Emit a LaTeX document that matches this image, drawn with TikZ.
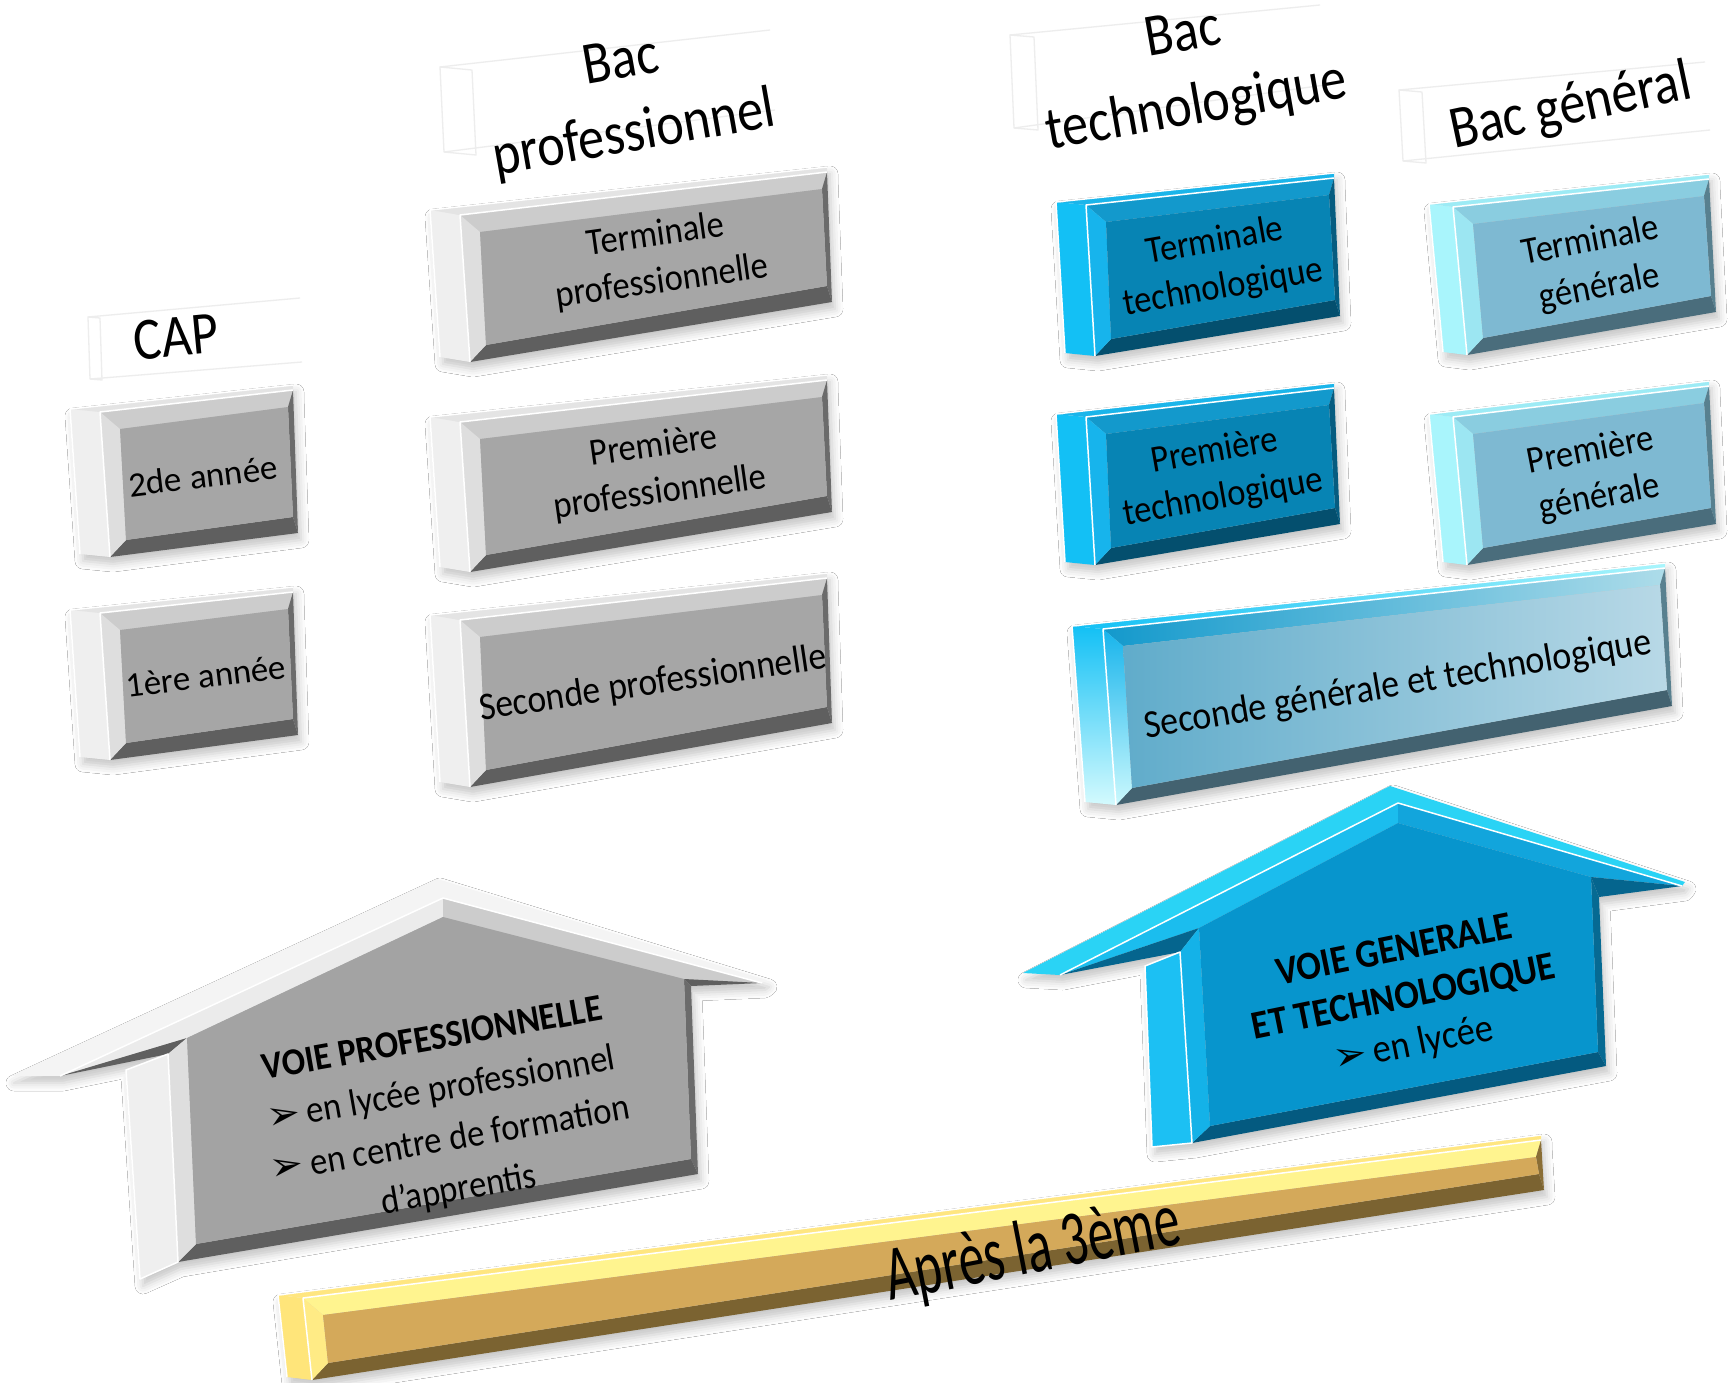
\documentclass[tikz,border=0pt]{standalone}
\usepackage{fontspec}
\setmainfont{Carlito}
\newfontfamily\calA[FakeStretch=0.87]{Carlito}
\newfontfamily\calB[FakeStretch=0.91]{Carlito}
\newfontfamily\calC[FakeStretch=0.66]{Carlito}
\newfontfamily\dvs{DejaVu Sans}
\usetikzlibrary{calc,shadows.blur}

% grey
\definecolor{gSideC}{HTML}{EFEFEF}\definecolor{gTopC}{HTML}{E4E4E4}
\definecolor{gBTC}{HTML}{CCCCCC}\definecolor{gBLC}{HTML}{DEDEDE}
\definecolor{gFaceC}{HTML}{A6A6A6}\definecolor{gBBC}{HTML}{5F5F5F}
\definecolor{gBRC}{HTML}{6B6B6B}
% techno blue
\definecolor{tSideC}{HTML}{13C0F5}\definecolor{tTopC}{HTML}{1BB5EA}
\definecolor{tBTC}{HTML}{1399CC}\definecolor{tBLC}{HTML}{17B4EC}
\definecolor{tFaceC}{HTML}{0784B4}\definecolor{tBBC}{HTML}{044F6E}
\definecolor{tBRC}{HTML}{065C80}
% general light
\definecolor{lSideC}{HTML}{A9F5FC}\definecolor{lTopC}{HTML}{9DEBF5}
\definecolor{lBTC}{HTML}{8ACDE0}\definecolor{lBLC}{HTML}{9CE6F2}
\definecolor{lFaceC}{HTML}{7EB9D2}\definecolor{lBBC}{HTML}{4A6D7C}
\definecolor{lBRC}{HTML}{58808F}
% yellow bar
\definecolor{ySideC}{HTML}{FFE57A}\definecolor{yTopC}{HTML}{FFE680}
\definecolor{yBTC}{HTML}{FFF48F}\definecolor{yBLC}{HTML}{FFEB85}
\definecolor{yFaceC}{HTML}{D4A95A}\definecolor{yBBC}{HTML}{7B6331}
\definecolor{yBRC}{HTML}{8A6E36}
% blue house
\definecolor{hTopC}{HTML}{2AD3F5}\definecolor{hRLC}{HTML}{1BBDEE}
\definecolor{hRRC}{HTML}{12A5DC}\definecolor{hDarkC}{HTML}{05658E}
\definecolor{hRC}{HTML}{066A93}\definecolor{hBC}{HTML}{045A80}
\definecolor{hLC}{HTML}{14B2E8}\definecolor{hFaceC}{HTML}{0795CD}
\definecolor{hSideC}{HTML}{1CC0F3}

\newcommand\bevbox[7]{%
  \coordinate (#1-tl) at (#2);
  \coordinate (#1-tr) at (#3);
  \coordinate (#1-br) at (#4);
  \coordinate (#1-bl) at (#5);
  \coordinate (#1-itl) at ($(#1-tl)+(20,17)$);
  \coordinate (#1-itr) at ($(#1-tr)+(-5,17)$);
  \coordinate (#1-ibr) at ($(#1-br)+(-5,-16)$);
  \coordinate (#1-ibl) at ($(#1-bl)+(16,-17)$);
  \coordinate (#1-stl) at ($(#1-tl)+(#7)$);
  \coordinate (#1-sbl) at ($(#1-bl)+(#7)$);
  \coordinate (#1-str) at ($(#1-tr)+(0,-5)$);
  \path[boxshadow] (#1-stl) -- (#1-str) -- (#1-tr) -- (#1-br) -- (#1-bl) -- (#1-sbl) -- cycle;
  \path[#6side] (#1-tl) -- (#1-bl) -- (#1-sbl) -- (#1-stl) -- cycle;
  \path[#6top] (#1-stl) -- (#1-str) -- (#1-tr) -- (#1-tl) -- cycle;
  \path[#6bt] (#1-tl) -- (#1-tr) -- (#1-itr) -- (#1-itl) -- cycle;
  \path[#6br] (#1-tr) -- (#1-br) -- (#1-ibr) -- (#1-itr) -- cycle;
  \path[#6bb] (#1-br) -- (#1-bl) -- (#1-ibl) -- (#1-ibr) -- cycle;
  \path[#6bl] (#1-bl) -- (#1-tl) -- (#1-itl) -- (#1-ibl) -- cycle;
  \path[#6face] (#1-itl) -- (#1-itr) -- (#1-ibr) -- (#1-ibl) -- cycle;
  \draw[hilite] (#1-sbl) -- (#1-stl) -- (#1-str);
  \draw[hilite] (#1-bl) -- (#1-tl) -- (#1-tr);
}

\newcommand\ghostbox[6]{%
  \coordinate (#1-tl) at (#2);
  \coordinate (#1-tr) at (#3);
  \coordinate (#1-br) at (#4);
  \coordinate (#1-bl) at (#5);
  \coordinate (#1-stl) at ($(#1-tl)+(#6)$);
  \coordinate (#1-sbl) at ($(#1-bl)+(#6)$);
  \draw[ghost] (#1-sbl) -- (#1-stl) -- (#1-tl) -- (#1-bl) -- cycle;
  \draw[ghost] (#1-stl) -- (#1-tr);
  \draw[ghost] (#1-sbl) -- (#1-br);
}

\begin{document}
\begin{tikzpicture}[x=1pt,y=-1pt,
  boxshadow/.style={blur shadow={shadow xshift=3pt,shadow yshift=-7pt,shadow opacity=22,shadow blur radius=8pt}},
  ghost/.style={draw=black!7,line width=1.3pt,line join=round},
  hilite/.style={draw=white,line width=1.5pt,line join=round},
  gside/.style={fill=gSideC}, gtop/.style={fill=gTopC}, gbt/.style={fill=gBTC},
  gbr/.style={fill=gBRC}, gbb/.style={fill=gBBC}, gbl/.style={fill=gBLC}, gface/.style={fill=gFaceC},
  tside/.style={fill=tSideC}, ttop/.style={fill=tTopC}, tbt/.style={fill=tBTC},
  tbr/.style={fill=tBRC}, tbb/.style={fill=tBBC}, tbl/.style={fill=tBLC}, tface/.style={fill=tFaceC},
  lside/.style={fill=lSideC}, ltop/.style={fill=lTopC}, lbt/.style={fill=lBTC},
  lbr/.style={fill=lBRC}, lbb/.style={fill=lBBC}, lbl/.style={fill=lBLC}, lface/.style={fill=lFaceC},
  yside/.style={fill=ySideC}, ytop/.style={fill=yTopC}, ybt/.style={fill=yBTC},
  ybr/.style={fill=yBRC}, ybb/.style={fill=yBBC}, ybl/.style={fill=yBLC}, yface/.style={fill=yFaceC},
  sside/.style={top color=tSideC, bottom color=lSideC!50!white},
  stop/.style={left color=tSideC, right color=lSideC},
  sbt/.style={left color=tBTC, right color=lBTC!70!white},
  sbr/.style={fill=lBRC},
  sbb/.style={fill=lBBC!90!black},
  sbl/.style={top color=tBLC, bottom color=lSideC!60!white},
  sface/.style={left color=lFaceC!75!tFaceC, right color=lFaceC!55!white},
  lblfont/.style={font={\calA\fontsize{60}{74}\selectfont}, align=center, inner sep=0pt},
  captxt/.style={font={\fontsize{35}{42}\selectfont}, align=center, inner sep=0pt},
  btxt/.style={font={\calB\fontsize{38}{47}\selectfont}, align=center, inner sep=0pt},
  htxt/.style={font={\calB\fontsize{38}{51}\selectfont}, align=center, inner sep=0pt},
  bhtxt/.style={font={\calB\fontsize{40}{48}\selectfont}, align=center, inner sep=0pt},
  bartxt/.style={font={\calC\fontsize{78}{90}\selectfont}, inner sep=0pt}
]
\useasboundingbox (0,0) rectangle (1729,1383);
\fill[white] (0,0) rectangle (1729,1383);

% ---------- ghost label boxes and labels ----------
\ghostbox{gcap}{100,318}{300,298}{302,362}{102,380}{-12,-1}
\ghostbox{gbp}{472,70}{770,30}{775,110}{476,155}{-32,-3}
\ghostbox{gbt}{1034,37}{1320,5}{1325,85}{1038,130}{-24,-2}
\ghostbox{gbg}{1422,92}{1705,62}{1710,130}{1426,163}{-23,-2}

\node[lblfont, rotate=5.5] (cap) at (176,337) {CAP};
\node[lblfont, rotate=10] (bacpro) at (628,100) {Bac\\professionnel};
\node[lblfont, rotate=10] (bactech) at (1190,73) {Bac\\technologique};
\node[lblfont, rotate=12] (bacgen) at (1571,108) {Bac général};

% ---------- CAP ----------
\bevbox{capa}{100,412}{293,390}{298,533}{110,557}{g}{-30,-3}
\node[captxt, rotate=7] (capatxt) at (203,476) {2de année};
\bevbox{capb}{100,613}{293,592}{298,735}{110,760}{g}{-30,-3}
\node[captxt, rotate=7] (capbtxt) at (206,676) {1ère année};

% ---------- Bac pro ----------
\bevbox{prot}{460,215}{827,172}{832,302}{470,362}{g}{-30,-5}
\node[btxt, rotate=8] (prottxt) at (659,259) {Terminale\\professionnelle};
\bevbox{prop}{460,422}{827,380}{832,512}{470,572}{g}{-30,-5}
\node[btxt, rotate=8] (proptxt) at (657,470) {Première\\professionnelle};
\bevbox{pros}{460,620}{827,578}{832,723}{470,787}{g}{-30,-5}
\node[btxt, font={\calB\fontsize{39}{47}\selectfont}, rotate=8.5] (prostxt) at (653,684) {Seconde professionnelle};

% ---------- Bac techno ----------
\bevbox{tect}{1086,205}{1334,178}{1340,316}{1095,356}{t}{-30,-3}
\node[btxt, rotate=10] (tecttxt) at (1219,265) {Terminale\\technologique};
\bevbox{tecp}{1086,417}{1334,388}{1340,524}{1095,565}{t}{-30,-3}
\node[btxt, rotate=10] (tecptxt) at (1219,475) {Première\\technologique};

% ---------- Bac general ----------
\bevbox{gent}{1453,207}{1709,179}{1716,312}{1467,355}{l}{-24,-3}
\node[btxt, rotate=11] (genttxt) at (1595,265) {Terminale\\générale};
\bevbox{genp}{1453,417}{1709,386}{1716,524}{1467,565}{l}{-24,-3}
\node[btxt, rotate=11] (genptxt) at (1595,475) {Première\\générale};

% ---------- Seconde G&T ----------
\bevbox{sec}{1103,629}{1665,568}{1672,706}{1116,805}{s}{-31,-3}
\node[btxt, font={\calB\fontsize{39.5}{47}\selectfont}, rotate=9.5] (sectxt) at (1398,686) {Seconde générale et technologique};

% ---------- grey house ----------
\coordinate (gh-oL) at (11,1076);
\coordinate (gh-oA) at (437,879);
\coordinate (gh-oR) at (766,980);
\coordinate (gh-L) at (60,1076);
\coordinate (gh-A) at (443,898);
\coordinate (gh-R) at (762,983);
\coordinate (gh-BTR) at (691,986);
\coordinate (gh-BBR) at (698,1174);
\coordinate (gh-BBL) at (178,1262);
\coordinate (gh-BTL) at (168,1054);
\coordinate (gh-sT) at (126,1070);
\coordinate (gh-sB) at (140,1279);
\coordinate (gh-iBTL) at (187,1038);
\coordinate (gh-iA) at (443,917);
\coordinate (gh-iBTR) at (684,979);
\coordinate (gh-iBBR) at (691,1159);
\coordinate (gh-iBBL) at (196,1244);
\path[boxshadow] (gh-oL) -- (gh-oA) -- (gh-oR) -- (gh-R) -- (gh-BTR) -- (gh-BBR) -- (gh-BBL) -- (gh-sB) -- (gh-sT) -- (gh-BTL) -- (gh-L) -- cycle;
\path[fill=gSideC] (gh-BTL) -- (gh-sT) -- (gh-sB) -- (gh-BBL) -- cycle;
\path[fill=gSideC!70!white] (gh-oL) -- (gh-oA) -- (gh-oR) -- (gh-R) -- (gh-A) -- (gh-L) -- cycle;
\path[fill=gBLC!60!white] (gh-L) -- (gh-A) -- (gh-iA) -- (gh-iBTL) -- cycle;
\path[fill=gBTC] (gh-A) -- (gh-R) -- (gh-iBTR) -- (gh-iA) -- cycle;
\path[fill=gBBC] (gh-L) -- (gh-iBTL) -- (gh-BTL) -- cycle;
\path[fill=gBBC] (gh-R) -- (gh-BTR) -- (gh-iBTR) -- cycle;
\path[fill=gBRC] (gh-BTR) -- (gh-BBR) -- (gh-iBBR) -- (gh-iBTR) -- cycle;
\path[fill=gBBC] (gh-BBR) -- (gh-BBL) -- (gh-iBBL) -- (gh-iBBR) -- cycle;
\path[fill=gBLC] (gh-BBL) -- (gh-BTL) -- (gh-iBTL) -- (gh-iBBL) -- cycle;
\path[fill=gFaceC!98!black] (gh-iBTL) -- (gh-iA) -- (gh-iBTR) -- (gh-iBBR) -- (gh-iBBL) -- cycle;
\draw[hilite] (gh-L) -- (gh-A) -- (gh-R);
\draw[hilite] (gh-sT) -- (gh-sB) -- (gh-BBL) -- (gh-BTL) -- cycle;
\node[htxt, rotate=10] (ghtxt) at (446,1116) {\textbf{VOIE PROFESSIONNELLE}\\{\dvs\fontsize{40}{40}\selectfont ➢}\,en lycée professionnel\\{\dvs\fontsize{40}{40}\selectfont ➢}\,en centre de formation\\d’apprentis};

% ---------- blue house ----------
\coordinate (bh-oL) at (1023,973);
\coordinate (bh-oA) at (1390,786);
\coordinate (bh-oR) at (1685,882);
\coordinate (bh-L) at (1060,975);
\coordinate (bh-A) at (1398,803);
\coordinate (bh-R) at (1682,886);
\coordinate (bh-BTR) at (1599,897);
\coordinate (bh-BBR) at (1606,1066);
\coordinate (bh-BBL) at (1192,1143);
\coordinate (bh-BTL) at (1180,952);
\coordinate (bh-sT) at (1145,966);
\coordinate (bh-sB) at (1152,1147);
\coordinate (bh-iBTL) at (1199,928);
\coordinate (bh-iA) at (1398,823);
\coordinate (bh-iBTR) at (1591,877);
\coordinate (bh-iBBR) at (1598,1052);
\coordinate (bh-iBBL) at (1210,1126);
\path[boxshadow] (bh-oL) -- (bh-oA) -- (bh-oR) -- (bh-R) -- (bh-BTR) -- (bh-BBR) -- (bh-BBL) -- (bh-sB) -- (bh-sT) -- (bh-BTL) -- (bh-L) -- cycle;
\path[fill=hSideC] (bh-BTL) -- (bh-sT) -- (bh-sB) -- (bh-BBL) -- cycle;
\path[fill=hTopC] (bh-oL) -- (bh-oA) -- (bh-oR) -- (bh-R) -- (bh-A) -- (bh-L) -- cycle;
\path[fill=hRLC] (bh-L) -- (bh-A) -- (bh-iA) -- (bh-iBTL) -- cycle;
\path[fill=hRRC] (bh-A) -- (bh-R) -- (bh-iBTR) -- (bh-iA) -- cycle;
\path[fill=hDarkC] (bh-L) -- (bh-iBTL) -- (bh-BTL) -- cycle;
\path[fill=hDarkC] (bh-R) -- (bh-BTR) -- (bh-iBTR) -- cycle;
\path[fill=hRC] (bh-BTR) -- (bh-BBR) -- (bh-iBBR) -- (bh-iBTR) -- cycle;
\path[fill=hBC] (bh-BBR) -- (bh-BBL) -- (bh-iBBL) -- (bh-iBBR) -- cycle;
\path[fill=hLC] (bh-BBL) -- (bh-BTL) -- (bh-iBTL) -- (bh-iBBL) -- cycle;
\path[fill=hFaceC] (bh-iBTL) -- (bh-iA) -- (bh-iBTR) -- (bh-iBBR) -- (bh-iBBL) -- cycle;
\draw[hilite] (bh-L) -- (bh-A) -- (bh-R);
\draw[hilite] (bh-sT) -- (bh-sB) -- (bh-BBL) -- (bh-BTL) -- cycle;
\node[bhtxt, rotate=11.5] (bhtxt) at (1404,999) {\textbf{VOIE GENERALE}\\\textbf{ET TECHNOLOGIQUE}\\{\dvs\fontsize{40}{40}\selectfont ➢}\,en lycée};

% ---------- bar ----------
\bevbox{bar}{303,1298}{1541,1140}{1544,1190}{312,1380}{y}{-25,-3}
\node[bartxt, rotate=11] (bartext) at (1033,1252) {Après la 3ème};

\end{tikzpicture}
\end{document}
